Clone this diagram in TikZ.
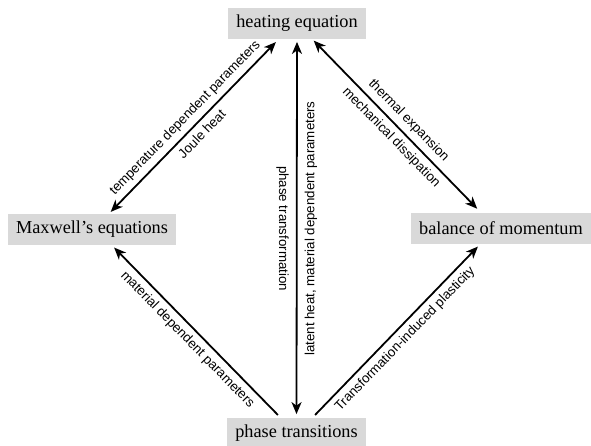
\documentclass[tikz,border=0pt]{standalone}
\usepackage{fontspec}
\setmainfont{Liberation Serif}
\setsansfont{Liberation Sans}
\usetikzlibrary{arrows.meta,calc}
\definecolor{boxgray}{HTML}{D9D9D9}

\begin{document}
\begin{tikzpicture}[
  x=1pt, y=-1pt,
  eqbox/.style={fill=boxgray, inner xsep=8.5pt, inner ysep=0pt, minimum height=31pt, font=\fontsize{18.3}{20}\selectfont},
  linklabel/.style={font=\sffamily\fontsize{13.3}{15}\selectfont, inner sep=2pt},
  >={Stealth[length=12pt,width=10pt,inset=3.5pt]}, line width=1.8pt
]
\useasboundingbox (0,0) rectangle (591,445);

\node[eqbox] (nHeat) at (297,23.5) {heating equation};
\node[eqbox] (nMax) at (92,229) {Maxwell's equations};
\node[eqbox] (nMom) at (501,228) {balance of momentum};
\node[eqbox] (nPhase) at (296.5,433.5) {phase transitions};

% coupling arrows
\draw[<->, shorten <=1pt, shorten >=3pt] ([xshift=18pt]nMax.north) -- ([xshift=-19pt]nHeat.south)
  node[linklabel, midway, sloped, above=3pt] {temperature dependent parameters}
  node[linklabel, midway, sloped, below=3pt] {Joule heat};
\draw[<->, shorten <=1pt, shorten >=4pt] ([xshift=16pt]nHeat.south) -- ([xshift=-21pt]nMom.north)
  node[linklabel, pos=0.52, sloped, above=3pt] {thermal expansion}
  node[linklabel, pos=0.52, sloped, below=3pt] {mechanical dissipation};
\draw[<->, shorten <=2pt, shorten >=3pt] (nHeat.south) -- (nPhase.north)
  node[linklabel, midway, rotate=-90, below=5pt] {phase transformation}
  node[linklabel, midway, rotate=90, below=5pt] {latent heat, material dependent parameters};
\draw[<-, shorten <=3pt, shorten >=3pt] ([xshift=20pt]nMax.south) -- ([xshift=-16.5pt]nPhase.north)
  node[linklabel, midway, sloped, below=3pt] {material dependent parameters};
\draw[->, shorten <=3pt, shorten >=3pt] ([xshift=16.5pt]nPhase.north) -- ([xshift=-21pt]nMom.south)
  node[linklabel, midway, sloped, below=3pt] {Transformation-induced plasticity};

\end{tikzpicture}
\end{document}
